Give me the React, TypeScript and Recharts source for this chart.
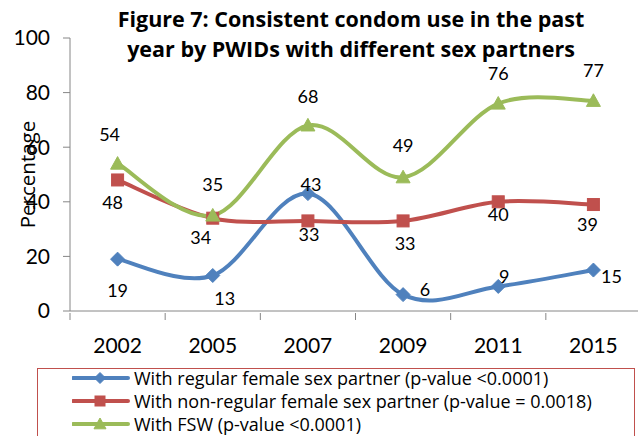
import { LineChart, Line, XAxis, YAxis, LabelList } from "recharts";

const years = ["2002", "2005", "2007", "2009", "2011", "2015"];
const regularPartner = [19, 13, 43, 6, 9, 15];
const nonRegularPartner = [48, 34, 33, 33, 40, 39];
const fswPartner = [54, 35, 68, 49, 76, 77];
const yTicks = [0, 20, 40, 60, 80, 100];

const titleLines = ["Figure 7: Consistent condom use in the past", "year by PWIDs with different sex partners"];
const legendNames = [
  "With regular female sex partner (p-value <0.0001)",
  "With non-regular female sex partner (p-value = 0.0018)",
  "With FSW (p-value <0.0001)",
];

const data = years.map((year, i) => ({
  year,
  regular: regularPartner[i],
  nonRegular: nonRegularPartner[i],
  fsw: fswPartner[i],
}));

// hand-placed label nudges (dx, dy) like the original's manual positions
const regularLabelShift = [[0, 31], [12, 22], [3, -10], [22, -6], [6, -10], [18, 6]];
const nonRegularLabelShift = [[-5, 22], [-12, 19], [1, 13], [2, 22], [0, 12], [-6, 19]];
const fswLabelShift = [[-8, -30], [0, -31], [0, -29], [0, -32], [0, -31], [0, -31]];

const FONT = "Lato, 'Open Sans', sans-serif";
const WIDE_FONT = "'Open Sans', Lato, sans-serif";
const BLUE = "#4F81BD";
const RED = "#C0504D";
const GREEN = "#9BBB59";
const AXIS = "#868686";

const CHART_W = 642;
const CHART_H = 436;
const MARGIN = { top: 38, right: 1, bottom: 85, left: 0 };
const Y_AXIS_W = 70;
const HALF_BAND = (CHART_W - MARGIN.left - MARGIN.right - Y_AXIS_W) / years.length / 2;

// Excel-like smoothing (Catmull-Rom style bezier)
const excelSmooth = (context: any) => {
  let pts: number[][] = [];
  return {
    areaStart() {},
    areaEnd() {},
    lineStart() {
      pts = [];
    },
    point(x: number, y: number) {
      pts.push([+x, +y]);
    },
    lineEnd() {
      const n = pts.length;
      if (!n) return;
      context.moveTo(pts[0][0], pts[0][1]);
      for (let i = 0; i < n - 1; i++) {
        const p0 = pts[i - 1] || pts[i];
        const p1 = pts[i];
        const p2 = pts[i + 1];
        const p3 = pts[i + 2] || p2;
        context.bezierCurveTo(
          p1[0] + (p2[0] - p0[0]) / 6,
          p1[1] + (p2[1] - p0[1]) / 6,
          p2[0] - (p3[0] - p1[0]) / 6,
          p2[1] - (p3[1] - p1[1]) / 6,
          p2[0],
          p2[1]
        );
      }
    },
  };
};

const Diamond = ({ cx, cy, r, color }: any) => (
  <path d={`M${cx},${cy - r}L${cx + r},${cy}L${cx},${cy + r}L${cx - r},${cy}Z`} fill={color} stroke={color} strokeWidth={1} />
);
const Square = ({ cx, cy, r, color }: any) => (
  <rect x={cx - r} y={cy - r} width={r * 2} height={r * 2} fill={color} stroke={color} strokeWidth={1} />
);
const Triangle = ({ cx, cy, r, color }: any) => (
  <path d={`M${cx},${cy - r}L${cx + r},${cy + r * 0.8}L${cx - r},${cy + r * 0.8}Z`} fill={color} stroke={color} strokeWidth={1} />
);

const makeDot = (Shape: any, color: string, r: number) => (props: any) =>
  <Shape key={`dot-${props.index}`} cx={props.cx} cy={props.cy} r={r} color={color} />;

const makeLabel = (shifts: number[][]) => (props: any) => {
  const [dx, dy] = shifts[props.index] || [0, 0];
  return (
    <text key={`lbl-${props.index}`} x={props.x + dx} y={props.y + dy} textAnchor="middle" dominantBaseline="central"
      fontFamily={FONT} fontSize={18} fill="#000">
      {props.value}
    </text>
  );
};

const XTick = (props: any) => {
  const { x, y, payload } = props;
  return (
    <g>
      <line x1={x - HALF_BAND} y1={y} x2={x - HALF_BAND} y2={y + 7} stroke={AXIS} strokeWidth={1} />
      <text x={x} y={y + 31} textAnchor="middle" dominantBaseline="central" fontFamily={FONT} fontSize={21} fill="#000">
        {payload.value}
      </text>
    </g>
  );
};

const YLabel = (props: any) => {
  const vb = props.viewBox;
  const cx = vb.x + 27;
  const cy = vb.y + vb.height / 2;
  return (
    <text x={cx} y={cy} transform={`rotate(-90 ${cx} ${cy})`} textAnchor="middle" dominantBaseline="central"
      fontFamily={WIDE_FONT} fontSize={20.5} fill="#000">
      Percentage
    </text>
  );
};

const legendIcons = [
  { color: BLUE, Shape: Diamond, r: 5.5 },
  { color: RED, Shape: Square, r: 5 },
  { color: GREEN, Shape: Triangle, r: 6 },
];

export default function App() {
  return (
    <div style={{ position: "absolute", left: 0, top: 0, width: 638, height: 436, overflow: "hidden", background: "#fff" }}>
      <div style={{ position: "absolute", left: 100, top: 4, width: 502, textAlign: "center", fontFamily: WIDE_FONT, fontWeight: 700,
        fontSize: 21.5, lineHeight: "30px", color: "#000", whiteSpace: "nowrap" }}>
        {titleLines.map((t) => <div key={t}>{t}</div>)}
      </div>
      <LineChart width={CHART_W} height={CHART_H} data={data} margin={MARGIN} style={{ position: "absolute", left: 0, top: 0 }}>
        <XAxis dataKey="year" scale="band" height={40} tickSize={0} tickLine={false} axisLine={{ stroke: AXIS }} tick={<XTick />} interval={0} />
        <YAxis width={Y_AXIS_W} domain={[0, 100]} ticks={yTicks} tickSize={7} tickMargin={13} axisLine={{ stroke: AXIS }}
          tickLine={{ stroke: AXIS }} tick={{ fontFamily: FONT, fontSize: 21, fill: "#000" }} label={<YLabel />} />
        <Line dataKey="regular" type={excelSmooth as any} stroke={BLUE} strokeWidth={4} isAnimationActive={false}
          dot={makeDot(Diamond, BLUE, 7)} activeDot={false}>
          <LabelList dataKey="regular" content={makeLabel(regularLabelShift)} />
        </Line>
        <Line dataKey="nonRegular" type={excelSmooth as any} stroke={RED} strokeWidth={4} isAnimationActive={false}
          dot={makeDot(Square, RED, 6)} activeDot={false}>
          <LabelList dataKey="nonRegular" content={makeLabel(nonRegularLabelShift)} />
        </Line>
        <Line dataKey="fsw" type={excelSmooth as any} stroke={GREEN} strokeWidth={4} isAnimationActive={false}
          dot={makeDot(Triangle, GREEN, 7)} activeDot={false}>
          <LabelList dataKey="fsw" content={makeLabel(fswLabelShift)} />
        </Line>
      </LineChart>
      <div style={{ position: "absolute", left: 37, top: 368, width: 598, height: 90, border: `1px solid ${RED}`, boxSizing: "border-box" }}>
        {legendNames.map((name, i) => {
          const { color, Shape, r } = legendIcons[i];
          return (
            <div key={name} style={{ position: "absolute", left: 34, top: -3 + i * 23, height: 24, display: "flex", alignItems: "center",
              fontFamily: WIDE_FONT, fontSize: 18, lineHeight: "24px", color: "#000", whiteSpace: "nowrap" }}>
              <svg width={58} height={20} style={{ marginRight: 4 }}>
                <line x1={1} y1={10} x2={56} y2={10} stroke={color} strokeWidth={4} strokeLinecap="round" />
                <Shape cx={28} cy={10} r={r} color={color} />
              </svg>
              <span>{name}</span>
            </div>
          );
        })}
      </div>
    </div>
  );
}
